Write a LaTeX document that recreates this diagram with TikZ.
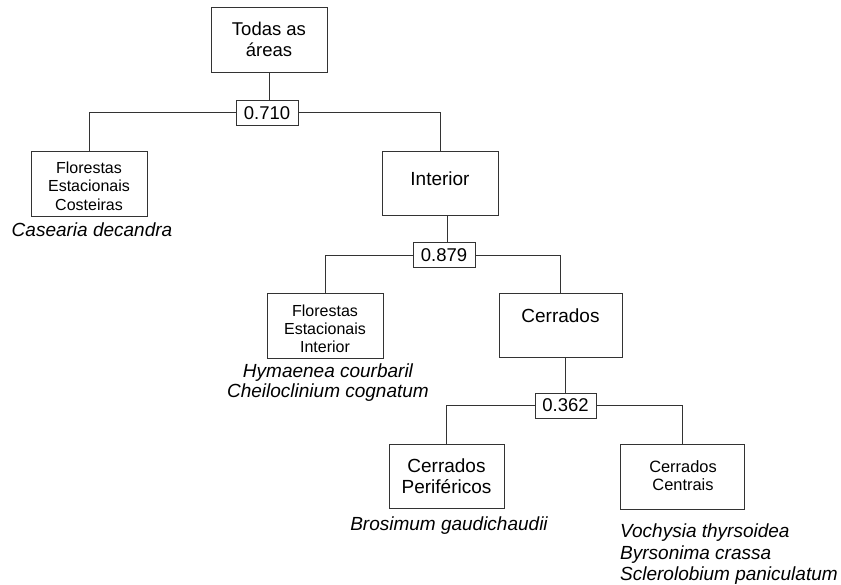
\documentclass[tikz,border=0pt]{standalone}
\usepackage{fontspec}
\setmainfont{Liberation Sans}
\begin{document}
\begin{tikzpicture}[x=1pt,y=-1pt,
  box/.style={draw=black!80, line width=1pt, inner sep=0pt, fill=white},
  num/.style={box, minimum width=62pt, minimum height=25pt, font=\fontsize{18.5}{21}\selectfont},
  ln/.style={draw=black!80, line width=1pt},
  txt/.style={inner sep=0pt, anchor=base, align=center},
  big/.style={txt, font=\fontsize{19}{20.5}\selectfont},
  small/.style={txt, font=\fontsize{16}{18.5}\selectfont},
  spec/.style={inner sep=0pt, anchor=base, font=\fontsize{19}{20.5}\selectfont\itshape}
]
\useasboundingbox (0,0) rectangle (841,585);

% boxes
\node[box, minimum width=116pt, minimum height=65pt] (todas) at (269,40.5) {};
\node[num] (n1) at (267,113) {0.710};
\node[box, minimum width=116pt, minimum height=65pt] (flc) at (89,184.5) {};
\node[box, minimum width=116pt, minimum height=64pt] (int) at (440,184) {};
\node[num] (n2) at (444,255.5) {0.879};
\node[box, minimum width=116pt, minimum height=65pt] (fli) at (325,326.5) {};
\node[box, minimum width=123pt, minimum height=64pt] (cer) at (560.5,326) {};
\node[num, minimum width=61pt] (n3) at (565.5,405.5) {0.362};
\node[box, minimum width=115pt, minimum height=64pt] (cper) at (446.5,476) {};
\node[box, minimum width=124pt, minimum height=65pt] (ccen) at (682,476.5) {};

% box texts (anchor base = baseline of last line)
\node[txt, font=\fontsize{18.5}{21}\selectfont] (todast) at (269,57) {Todas as\\áreas};
\node[small] (flct) at (89,210.5) {Florestas\\Estacionais\\Costeiras};
\node[big] (intt) at (440,186) {Interior};
\node[small, font=\fontsize{16}{18}\selectfont] (flit) at (325,353) {Florestas\\Estacionais\\Interior};
\node[big] (cert) at (560.5,323) {Cerrados};
\node[big] (cpert) at (446.5,493) {Cerrados\\Periféricos};
\node[txt, font=\fontsize{16.4}{18}\selectfont] (ccent) at (683,490) {Cerrados\\Centrais};

% species
\node[spec] (s1) at (92,237) {Casearia decandra};
\node[spec, align=center] (s2) at (328,397.5) {Hymaenea courbaril\\Cheiloclinium cognatum};
\node[spec] (s3) at (449,530) {Brosimum gaudichaudii};
\node[spec, anchor=base west, align=left, font=\fontsize{19}{21.5}\selectfont\itshape] (s4) at (620,580.7) {Vochysia thyrsoidea\\Byrsonima crassa\\Sclerolobium paniculatum};

% connectors
\draw[ln] (todas.south) -- (todas.south |- n1.north);
\draw[ln] (n1.west) -| (flc.north);
\draw[ln] (n1.east) -| (int.north);
\draw[ln] ([xshift=3pt]n2.north) -- ([xshift=3pt]n2.north |- int.south);
\draw[ln] (n2.west) -| (fli.north);
\draw[ln] (n2.east) -| (cer.north);
\draw[ln] (n3.north) -- (n3.north |- cer.south);
\draw[ln] (n3.west) -| (cper.north);
\draw[ln] (n3.east) -| (ccen.north);
\end{tikzpicture}
\end{document}
